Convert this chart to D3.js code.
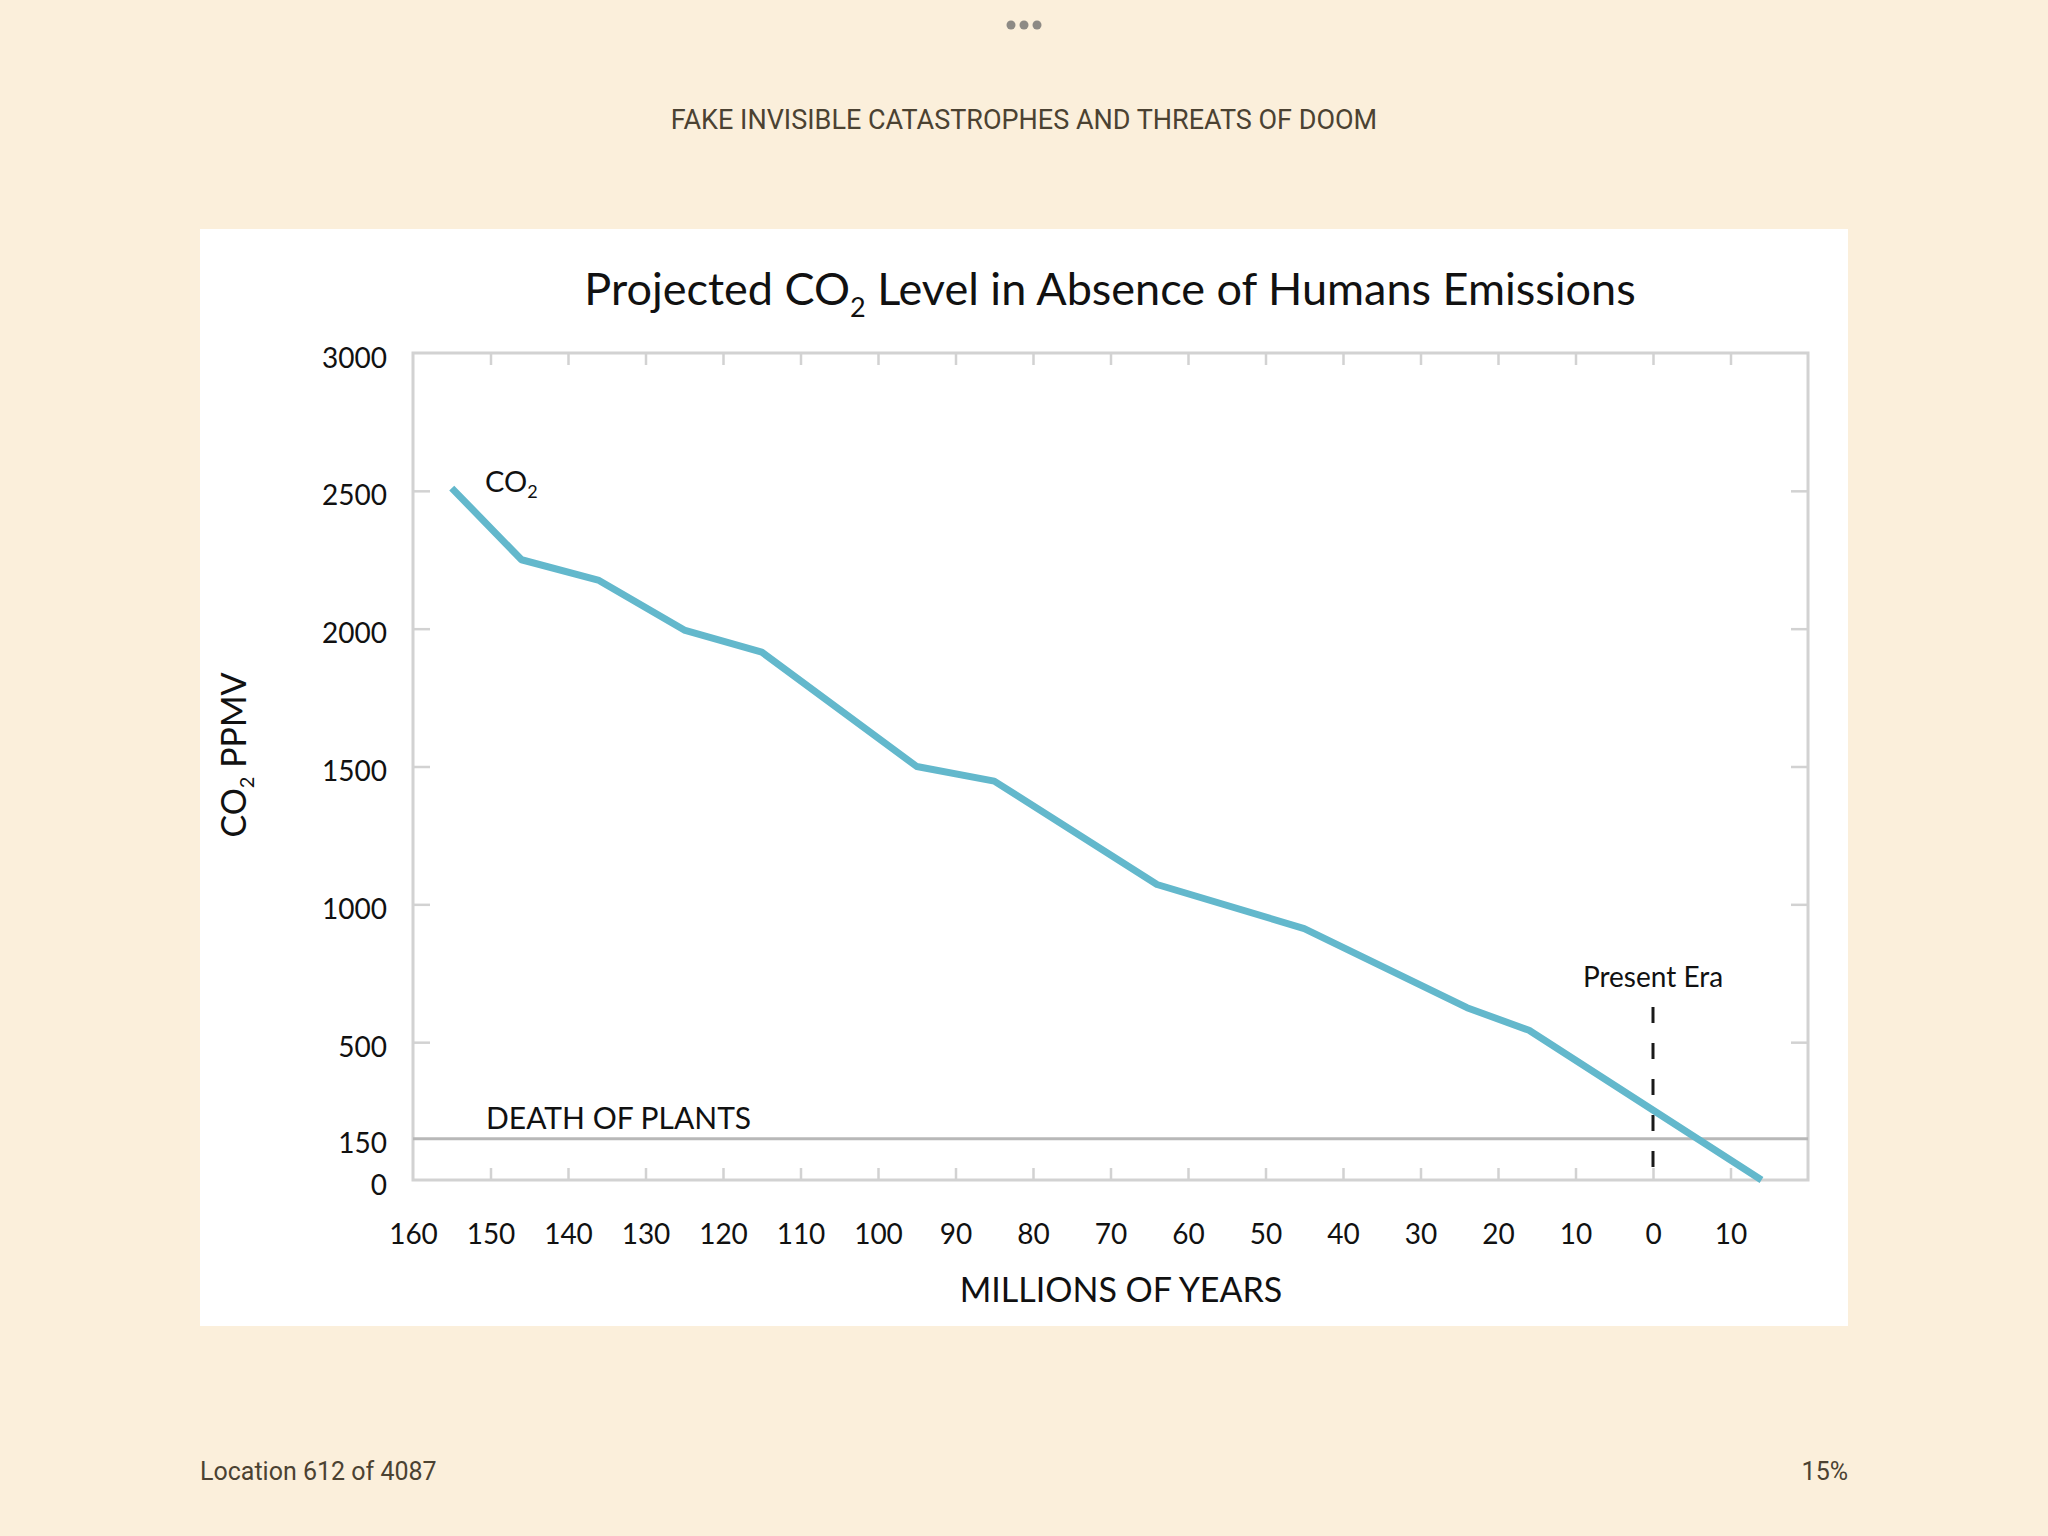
<!DOCTYPE html>
<html>
<head>
<meta charset="utf-8">
<script src="https://cdn.jsdelivr.net/npm/d3@7"></script>
<style>
  body { margin: 0; background: #fbefdb; }
  text { font-family: Lato, "Open Sans", sans-serif; }
</style>
</head>
<body>
<script>

// data (millions of years, positive = past, negative = future)
var years = [155, 146, 136, 125, 115, 95, 85, 64, 45, 24, 16, -14];
var co2Values = [2510, 2250, 2175, 1995, 1915, 1500, 1447, 1072, 912, 625, 543, 0];

var xTicks = [160, 150, 140, 130, 120, 110, 100, 90, 80, 70, 60, 50, 40, 30, 20, 10, 0, -10];
var xFrameTicks = [150, 140, 130, 120, 110, 100, 90, 80, 70, 60, 50, 40, 30, 20, 10, 0, -10];
var yTicks = [0, 150, 500, 1000, 1500, 2000, 2500, 3000];
var yFrameTicks = [500, 1000, 1500, 2000, 2500];
var plantDeath = 150;
var presentEra = 0;

var W = 2048, H = 1536;
var plotL = 413, plotR = 1808, plotT = 353, plotB = 1180;

var svg = d3.select('body').append('svg')
  .attr('width', W).attr('height', H);

// page header / footer
svg.append('rect').attr('width', W).attr('height', H).attr('fill', '#fbefdb');

[-13, 0, 13].forEach(function(dx) {
  svg.append('circle').attr('cx', 1024 + dx).attr('cy', 25).attr('r', 4.5).attr('fill', '#8d8a85');
});

svg.append('text')
  .attr('x', 1024).attr('y', 129)
  .attr('text-anchor', 'middle')
  .style('font-family', 'Roboto, sans-serif')
  .style('font-size', '27px')
  .attr('fill', '#4b4232')
  .text('FAKE INVISIBLE CATASTROPHES AND THREATS OF DOOM');

svg.append('text')
  .attr('x', 200).attr('y', 1480)
  .style('font-family', 'Roboto, sans-serif')
  .style('font-size', '25px')
  .attr('fill', '#4b4232')
  .text('Location 612 of 4087');

svg.append('text')
  .attr('x', 1848).attr('y', 1480)
  .attr('text-anchor', 'end')
  .style('font-family', 'Roboto, sans-serif')
  .style('font-size', '25px')
  .attr('fill', '#4b4232')
  .text('15%');

// white card
svg.append('rect')
  .attr('x', 200).attr('y', 229).attr('width', 1648).attr('height', 1097)
  .attr('fill', '#ffffff');

var x = d3.scaleLinear().domain([160, -20]).range([plotL, plotR]);
var y = d3.scaleLinear().domain([0, 3000]).range([plotB, plotT]);

// title with subscript
var title = svg.append('text')
  .attr('x', 1110).attr('y', 305)
  .attr('text-anchor', 'middle')
  .style('font-size', '45px')
  .attr('fill', '#111');
title.append('tspan').text('Projected CO');
title.append('tspan').attr('dy', 12).style('font-size', '27px').text('2');
title.append('tspan').attr('dy', -12).text(' Level in Absence of Humans Emissions');

// frame
svg.append('rect')
  .attr('x', plotL).attr('y', plotT)
  .attr('width', plotR - plotL).attr('height', plotB - plotT)
  .attr('fill', 'none').attr('stroke', '#d2d2d2').attr('stroke-width', 3);

function frameAxis(axis, tx, ty) {
  var g = svg.append('g').attr('transform', 'translate(' + tx + ',' + ty + ')').call(axis);
  g.select('.domain').remove();
  g.selectAll('line').attr('stroke', '#d2d2d2').attr('stroke-width', 2.5);
  g.selectAll('text').remove();
}
frameAxis(d3.axisTop(x).tickValues(xFrameTicks).tickSize(12), 0, plotB);
frameAxis(d3.axisBottom(x).tickValues(xFrameTicks).tickSize(12), 0, plotT);
frameAxis(d3.axisRight(y).tickValues(yFrameTicks).tickSize(17), plotL, 0);
frameAxis(d3.axisLeft(y).tickValues(yFrameTicks).tickSize(17), plotR, 0);

// tick labels
var xAxis = svg.append('g').attr('transform', 'translate(0,' + plotB + ')')
  .call(d3.axisBottom(x).tickValues(xTicks).tickSize(0).tickPadding(44)
    .tickFormat(function(d) { return Math.abs(d); }));
xAxis.select('.domain').remove();
xAxis.selectAll('text').style('font-family', 'Lato, sans-serif').style('font-size', '28px').attr('fill', '#111');

var yAxis = svg.append('g').attr('transform', 'translate(' + (plotL - 26) + ',0)')
  .call(d3.axisLeft(y).tickValues(yTicks).tickSize(0).tickPadding(0).tickFormat(d3.format('d')));
yAxis.select('.domain').remove();
yAxis.selectAll('text').style('font-family', 'Lato, sans-serif').style('font-size', '28px')
  .attr('fill', '#111').attr('dy', '0.5em');

// death of plants line
svg.append('line')
  .attr('x1', plotL).attr('x2', plotR)
  .attr('y1', y(plantDeath)).attr('y2', y(plantDeath))
  .attr('stroke', '#b8b8b8').attr('stroke-width', 3);

svg.append('text')
  .attr('x', 486).attr('y', y(plantDeath) - 10)
  .style('font-size', '30px').attr('fill', '#111')
  .text('DEATH OF PLANTS');

// present era marker
svg.append('line')
  .attr('x1', x(presentEra)).attr('x2', x(presentEra))
  .attr('y1', 1007).attr('y2', 1175)
  .attr('stroke', '#1a1a1a').attr('stroke-width', 3)
  .attr('stroke-dasharray', '16,20');

svg.append('text')
  .attr('x', x(presentEra)).attr('y', 987)
  .attr('text-anchor', 'middle')
  .style('font-size', '28px').attr('fill', '#111')
  .text('Present Era');

// CO2 series
var line = d3.line()
  .x(function(d, i) { return x(years[i]); })
  .y(function(d) { return y(d); });

svg.append('path')
  .datum(co2Values)
  .attr('d', line)
  .attr('fill', 'none')
  .attr('stroke', '#63b8cc')
  .attr('stroke-width', 7)
  .attr('stroke-linejoin', 'round');

var co2Label = svg.append('text')
  .attr('x', 485).attr('y', 492)
  .style('font-size', '29px').attr('fill', '#111');
co2Label.append('tspan').text('CO');
co2Label.append('tspan').attr('dy', 6).style('font-size', '18px').text('2');

// axis titles
svg.append('text')
  .attr('x', 1121).attr('y', 1302)
  .attr('text-anchor', 'middle')
  .style('font-size', '34px').attr('fill', '#111')
  .text('MILLIONS OF YEARS');

var yTitle = svg.append('text')
  .attr('transform', 'translate(246,755) rotate(-90)')
  .attr('text-anchor', 'middle')
  .style('font-size', '34px').attr('fill', '#111');
yTitle.append('tspan').text('CO');
yTitle.append('tspan').attr('dy', 8).style('font-size', '20px').text('2');
yTitle.append('tspan').attr('dy', -8).text(' PPMV');

</script>
</body>
</html>
